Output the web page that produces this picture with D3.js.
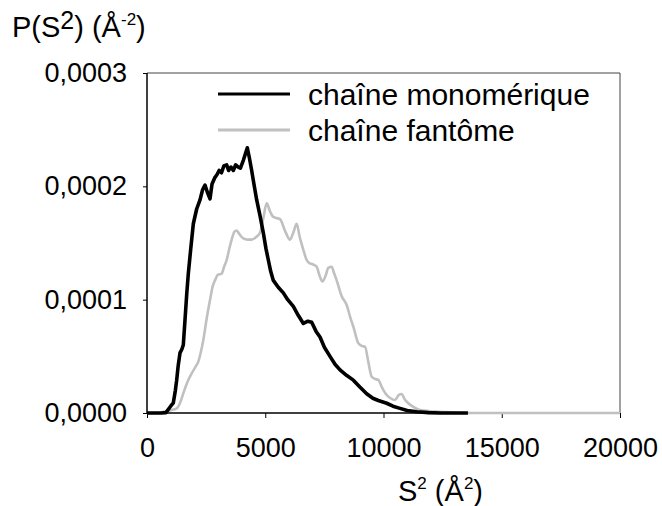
<!DOCTYPE html>
<html>
<head>
<meta charset="utf-8">
<script src="https://cdn.jsdelivr.net/npm/d3@7"></script>
<style>
  body { margin: 0; background: #fff; }
  svg { font-family: "Liberation Sans", Arial, sans-serif; }
</style>
</head>
<body>
<div id="chart"></div>
<script>
// S² (Å²) and P(S²) in units of 1e-4 Å^-2
const monoX = [0, 600, 800, 1000, 1113, 1200, 1255, 1320, 1395, 1470, 1535, 1600, 1680, 1747, 1850, 1959,
  2100, 2241, 2350, 2452, 2550, 2664, 2750, 2875, 2950, 3050, 3150, 3250, 3369, 3450, 3550, 3650, 3750,
  3862, 3950, 4073, 4180, 4242, 4330, 4426, 4530, 4638, 4780, 4918, 5030, 5130, 5230, 5341, 5550, 5764,
  5950, 6187, 6400, 6610, 6800, 6963, 7150, 7315, 7500, 7738, 7950, 8161, 8450, 8725, 9000, 9288, 9550,
  9781, 10134, 10400, 10698, 11000, 11402, 11900, 12389, 13570];
const monoY = [0, 0, 0.003, 0.06, 0.09, 0.2, 0.29, 0.42, 0.53, 0.56, 0.6, 0.8, 1.05, 1.23, 1.45, 1.67,
  1.8, 1.88, 1.97, 2.01, 1.95, 1.89, 2.02, 2.08, 2.1, 2.14, 2.12, 2.18, 2.19, 2.14, 2.17, 2.14, 2.19,
  2.17, 2.16, 2.23, 2.3, 2.34, 2.25, 2.14, 2.01, 1.88, 1.74, 1.59, 1.45, 1.35, 1.25, 1.17, 1.11, 1.06,
  1.0, 0.94, 0.86, 0.79, 0.81, 0.8, 0.72, 0.67, 0.58, 0.5, 0.43, 0.38, 0.33, 0.29, 0.23, 0.17, 0.13,
  0.11, 0.086, 0.06, 0.041, 0.022, 0.011, 0.003, 0, 0];

const ghostX = [0, 500, 691, 1000, 1255, 1400, 1536, 1700, 1889, 2030, 2170, 2280, 2382, 2520, 2664,
  2780, 2875, 3000, 3157, 3260, 3369, 3480, 3580, 3700, 3791, 3900, 4073, 4250, 4426, 4600, 4778, 4920,
  5060, 5200, 5341, 5480, 5624, 5850, 6046, 6200, 6329, 6450, 6610, 6750, 6892, 7030, 7174, 7300, 7420,
  7550, 7667, 7808, 7900, 8020, 8232, 8443, 8600, 8725, 8936, 9100, 9218, 9350, 9500, 9650, 9781, 9950,
  10134, 10300, 10486, 10650, 10768, 10900, 11050, 11300, 11543, 12000, 12389, 13000, 13517, 20000];
const ghostY = [0, 0, 0.011, 0.025, 0.041, 0.09, 0.174, 0.27, 0.35, 0.4, 0.453, 0.54, 0.644, 0.83, 0.997,
  1.12, 1.17, 1.22, 1.23, 1.29, 1.35, 1.45, 1.53, 1.6, 1.61, 1.58, 1.54, 1.53, 1.53, 1.55, 1.59, 1.72,
  1.85, 1.78, 1.73, 1.72, 1.71, 1.6, 1.53, 1.6, 1.67, 1.56, 1.44, 1.35, 1.32, 1.31, 1.29, 1.21, 1.16,
  1.21, 1.28, 1.29, 1.24, 1.17, 1.03, 0.953, 0.84, 0.762, 0.615, 0.59, 0.585, 0.46, 0.32, 0.3, 0.291, 0.22,
  0.159, 0.13, 0.115, 0.16, 0.168, 0.12, 0.086, 0.05, 0.026, 0.015, 0.011, 0.004, 0, 0];

const xTicks = [0, 5000, 10000, 15000, 20000];
const yTicks = [0, 0.0001, 0.0002, 0.0003];
const seriesNames = ["chaîne monomérique", "chaîne fantôme"];

const width = 662, height = 506;
const svg = d3.select("#chart").append("svg")
  .attr("width", width).attr("height", height);

const x = d3.scaleLinear().domain([0, 20000]).range([147, 620]);
const y = d3.scaleLinear().domain([0, 0.0003]).range([413, 73]);

const fmt = d => d3.format(".4f")(d).replace(".", ",");

// frame (top and right)
svg.append("path")
  .attr("d", `M${x(0)},${y(0.0003)}H${x(20000)}V${y(0)}`)
  .attr("fill", "none").attr("stroke", "#444").attr("stroke-width", 1);

const gx = svg.append("g").attr("transform", `translate(0,${y(0)})`)
  .call(d3.axisBottom(x).tickValues(xTicks).tickSize(5).tickPadding(20).tickFormat(d3.format("d")));
const gy = svg.append("g").attr("transform", `translate(${x(0)},0)`)
  .call(d3.axisLeft(y).tickValues(yTicks).tickSize(4).tickPadding(16).tickFormat(fmt));

[gx, gy].forEach(g => {
  g.select(".domain").attr("stroke", "#000").attr("stroke-width", 1.5);
  g.selectAll(".tick line").attr("stroke", "#000");
  g.selectAll("text").attr("font-size", 27).attr("fill", "#000")
    .attr("font-family", "Liberation Sans, Arial, sans-serif");
});
gy.select(".domain").attr("d", `M0,${y(0.0003)}V${y(0)}`);
gx.select(".domain").attr("d", `M${x(0)},0H${x(20000)}`);

const line = d3.line().x(d => x(d[0])).y(d => y(d[1] * 1e-4));

svg.append("path")
  .datum(d3.zip(ghostX, ghostY))
  .attr("fill", "none").attr("stroke", "#c0c0c0").attr("stroke-width", 2.6)
  .attr("d", line.curve(d3.curveMonotoneX));

svg.append("path")
  .datum(d3.zip(monoX, monoY))
  .attr("fill", "none").attr("stroke", "#000").attr("stroke-width", 3.6)
  .attr("stroke-linejoin", "round")
  .attr("d", line.curve(d3.curveLinear));

// legend
const legend = svg.append("g");
const legendColors = ["#000", "#c0c0c0"];
const legendWidths = [3, 3];
seriesNames.forEach((name, i) => {
  const ly = 94 + i * 36;
  legend.append("line").attr("x1", 218).attr("x2", 290).attr("y1", ly).attr("y2", ly)
    .attr("stroke", legendColors[i]).attr("stroke-width", legendWidths[i]);
  legend.append("text").attr("x", 308).attr("y", ly + 11)
    .attr("font-size", 30).text(name);
});

// axis titles
const yTitle = svg.append("text").attr("x", 12).attr("y", 37).attr("font-size", 29);
yTitle.append("tspan").text("P(S");
yTitle.append("tspan").attr("font-size", 25).attr("dy", -8).text("2");
yTitle.append("tspan").attr("dy", 8).text(") (Å");
yTitle.append("tspan").attr("font-size", 17).attr("dy", -12).text("-2");
yTitle.append("tspan").attr("dy", 12).text(")");

const xTitle = svg.append("text").attr("x", 398).attr("y", 501).attr("font-size", 29);
xTitle.append("tspan").text("S");
xTitle.append("tspan").attr("font-size", 17).attr("dy", -12).text("2");
xTitle.append("tspan").attr("dy", 12).text(" (Å");
xTitle.append("tspan").attr("font-size", 17).attr("dy", -12).text("2");
xTitle.append("tspan").attr("dy", 12).text(")");
</script>
</body>
</html>
